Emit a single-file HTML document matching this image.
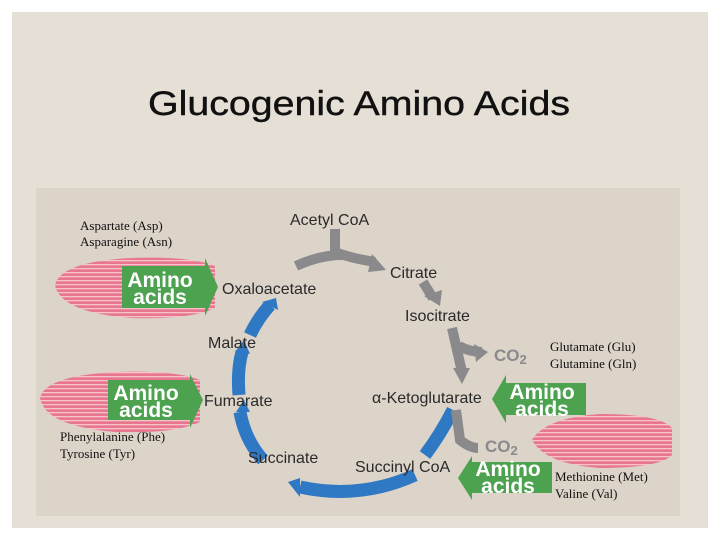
<!DOCTYPE html>
<html><head><style>
body{margin:0;background:#fff;}
svg{display:block}
</style></head><body>
<svg width="720" height="540" xmlns="http://www.w3.org/2000/svg" font-family="Liberation Sans, sans-serif">
<defs>
<pattern id="st" width="4" height="4" patternUnits="userSpaceOnUse">
<rect width="4" height="4" fill="#e8768e"/><rect width="4" height="1.3" fill="#f6c2cc"/>
</pattern>
</defs>
<rect x="12" y="12" width="696" height="516" fill="#e5dfd6"/>
<text x="359" y="115" font-size="34" text-anchor="middle" fill="#111" stroke="#111" stroke-width="0.4" textLength="422" lengthAdjust="spacingAndGlyphs">Glucogenic Amino Acids</text>
<rect x="36" y="188" width="644" height="328" fill="#dcd3c9"/>

<!-- muscles -->
<path d="M55,285 Q60,262 130,258 Q190,256 215,266 L215,308 Q190,320 130,318 Q60,312 55,285 Z" fill="url(#st)"/>
<path d="M40,398 Q45,376 115,372 Q175,370 200,380 L200,422 Q175,434 115,432 Q45,426 40,398 Z" fill="url(#st)"/>
<path d="M532,440 Q545,418 600,414 Q660,414 672,428 L672,455 Q660,468 600,468 Q545,464 532,440 Z" fill="url(#st)"/>

<!-- blue cycle arcs -->
<g fill="none" stroke="#2f78c4" stroke-width="13">
<path d="M300,487 Q360,500 415,475"/>
<path d="M263,460 Q245,440 240,412"/>
<path d="M239,395 Q237,370 242,352"/>
<path d="M250,335 Q258,318 270,305"/>
<path d="M453,410 Q440,435 425,455"/>
</g>
<g fill="#2f78c4">
<polygon points="300,478 288,482 300,497"/>
<polygon points="236,412 250,412 244,400"/>
<polygon points="235,352 250,354 244,340"/>
<polygon points="262,302 278,310 276,298"/>
</g>

<!-- gray arrows -->
<g fill="none" stroke="#8a8a8c" stroke-width="10">
<path d="M335,229 L335,252 Q350,258 375,262"/>
<path d="M296,266 Q320,255 342,255"/>
<path d="M423,282 L433,298"/>
<path d="M452,328 L462,372"/>
<path d="M459,346 Q470,352 482,352"/>
<path d="M456,410 L460,440 Q470,448 478,448"/>
</g>
<g fill="#8a8a8c">
<polygon points="372,254 386,270 368,272"/>
<polygon points="424,296 442,290 440,306"/>
<polygon points="453,368 470,368 462,384"/>
<polygon points="474,344 488,352 476,362"/>
</g>

<!-- green arrows -->
<g fill="#4ca24f">
<polygon points="122,266 205,266 205,258 218,287 205,316 205,308 122,308"/>
<polygon points="108,380 190,380 190,374 203,400 190,428 190,420 108,420"/>
<polygon points="586,383 506,383 506,375 492,399 506,423 506,415 586,415"/>
<polygon points="552,462 472,462 472,456 458,478 472,500 472,493 552,493"/>
</g>
<g fill="#fff" font-weight="bold" font-size="21" text-anchor="middle">
<text x="160" y="287">Amino</text><text x="160" y="304">acids</text>
<text x="146" y="400">Amino</text><text x="146" y="417">acids</text>
<text x="542" y="399">Amino</text><text x="542" y="416">acids</text>
<text x="508" y="476">Amino</text><text x="508" y="493">acids</text>
</g>

<!-- labels -->
<g font-size="16" fill="#2a2a2a">
<text x="290" y="225">Acetyl CoA</text>
<text x="390" y="278">Citrate</text>
<text x="405" y="321">Isocitrate</text>
<text x="222" y="294">Oxaloacetate</text>
<text x="208" y="348">Malate</text>
<text x="204" y="406">Fumarate</text>
<text x="372" y="403">α-Ketoglutarate</text>
<text x="248" y="463">Succinate</text>
<text x="355" y="472">Succinyl CoA</text>
</g>
<g font-size="17" font-weight="bold" fill="#8a8a8c">
<text x="494" y="361">CO<tspan font-size="13" dy="3">2</tspan></text>
<text x="485" y="452">CO<tspan font-size="13" dy="3">2</tspan></text>
</g>
<g font-family="Liberation Serif, serif" font-size="13" fill="#111">
<text x="80" y="230">Aspartate (Asp)</text>
<text x="80" y="246">Asparagine (Asn)</text>
<text x="60" y="441">Phenylalanine (Phe)</text>
<text x="60" y="458">Tyrosine (Tyr)</text>
<text x="550" y="351">Glutamate (Glu)</text>
<text x="550" y="368">Glutamine (Gln)</text>
<text x="555" y="481">Methionine (Met)</text>
<text x="555" y="498">Valine (Val)</text>
</g>
</svg>
</body></html>
